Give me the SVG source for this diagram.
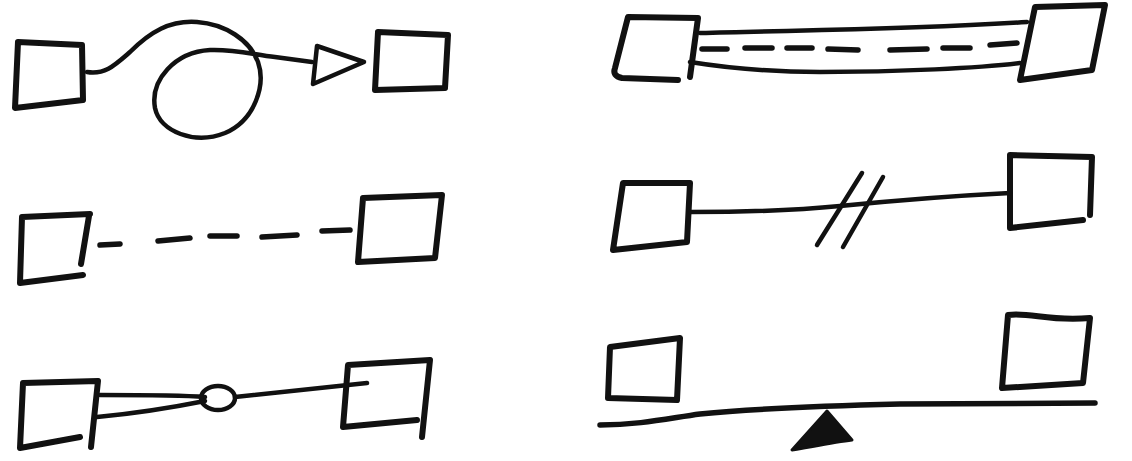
<svg xmlns="http://www.w3.org/2000/svg" width="1132" height="461" viewBox="0 0 1132 461">
<style>
.box{fill:none;stroke:#111;stroke-width:6;stroke-linejoin:round;stroke-linecap:round}
.ln{fill:none;stroke:#111;stroke-width:4.5;stroke-linecap:round;stroke-linejoin:round}
.dash{fill:none;stroke:#111;stroke-width:5.5;stroke-linecap:round}
</style>
<rect width="1132" height="461" fill="#fff"/>
<g id="node-a1"><path class="box" d="M18,42 L82,45 L83,100 L15,108 Z"/></g>
<g id="node-a2"><path class="box" d="M378,32 L448,35 L445,88 L375,90 Z"/></g>
<g id="node-b1"><path class="box" d="M90,214 L22,217 L20,283 L83,275 M89,216 L81,264"/></g>
<g id="node-b2"><path class="box" d="M363,198 L442,195 L435,258 L358,262 Z"/></g>
<g id="node-c1"><path class="box" d="M91,447 L98,381 L23,383 L20,448 L80,437"/></g>
<g id="node-c2"><path class="box" d="M422,437 L430,360 L348,365 L343,427 L417,420"/></g>
<g id="node-d1"><path class="box" d="M678,80 L622,78 Q612,76 615,68 L628,17 L698,18 L690,77"/></g>
<g id="node-d2"><path class="box" d="M1035,7 L1105,5 L1092,70 L1020,80 Z"/></g>
<g id="node-e1"><path class="box" d="M623,183 L690,183 L687,242 L613,250 Z"/></g>
<g id="node-e2"><path class="box" d="M1010,228 L1010,155 L1092,157 L1090,215 M1083,220 L1010,228"/></g>
<g id="node-f1"><path class="box" d="M610,347 L680,338 L677,400 L608,398 Z"/></g>
<g id="node-f2"><path class="box" d="M1008,315 C1030,312 1050,322 1090,318 L1083,383 L1002,388 Z"/></g>
<g id="connectors">
<path class="ln" d="M87,72 C105,75 115,65 130,52 C150,32 170,20 197,22 C225,24 250,40 258,62 C266,85 255,120 225,133 C195,145 160,132 155,108 C150,80 175,52 210,50 C235,49 255,55 275,57 L312,62"/>
<path class="ln" d="M317,46 L364,62 L313,84 Z" fill="#fff"/>
<g class="dash">
<path d="M100,245 L120,244"/><path d="M158,241 L190,238"/><path d="M210,236 L237,236"/><path d="M262,237 L297,235"/><path d="M322,231 L350,230"/>
</g>
<path class="ln" d="M100,395 C140,395 180,395 205,397"/>
<path class="ln" d="M97,417 C140,413 175,407 205,401"/>
<ellipse class="ln" cx="218" cy="398" rx="17" ry="12" fill="#fff"/>
<path class="ln" d="M235,397 L367,383"/>
<path class="ln" d="M700,33 C800,30 900,30 1027,22"/>
<path class="ln" d="M690,62 C740,70 780,72 820,72 C900,72 980,68 1020,63"/>
<g class="dash">
<path d="M702,49 L727,49"/><path d="M745,48 L772,48"/><path d="M787,48 L812,48"/><path d="M828,49 L858,50"/><path d="M890,50 L927,49"/><path d="M943,48 L970,48"/><path d="M990,45 L1017,43"/>
</g>
<path class="ln" d="M690,212 C760,212 800,210 840,206 C900,200 950,196 1010,193"/>
<path class="ln" d="M817,245 L862,173 M843,247 L883,177"/>
<path class="ln" style="stroke-width:5.5" d="M600,425 C640,425 670,418 700,414 C760,408 820,406 900,404 C980,403 1050,403 1095,403"/>
<path d="M827,411 L792,450 C810,447 835,442 852,440 Z" fill="#111" stroke="#111" stroke-width="3" stroke-linejoin="round"/>
</g>
</svg>
